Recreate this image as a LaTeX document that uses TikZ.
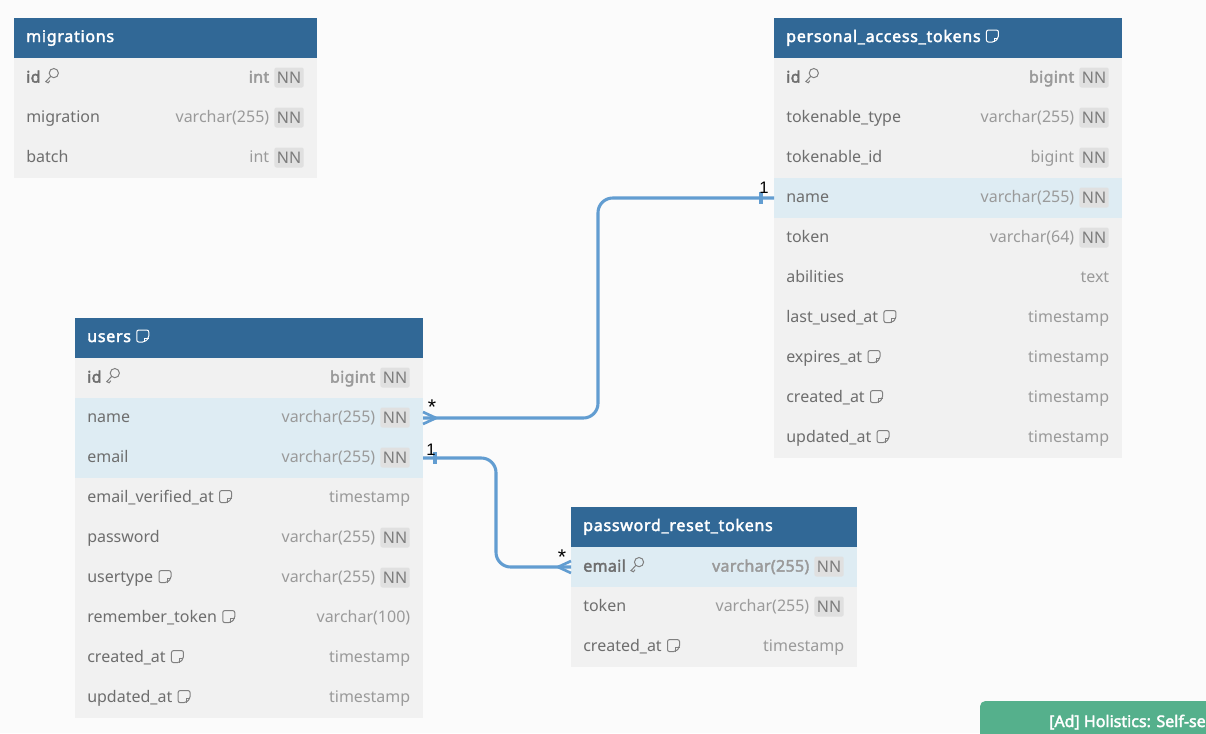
\documentclass[tikz,border=0pt]{standalone}
\usepackage{fontspec}
\setmainfont{Noto Sans}
\newfontfamily\bfnoto{Noto Sans}[FakeBold=2.4,LetterSpace=2]
\newfontfamily\hdfont{Noto Sans}[FakeBold=2.4,LetterSpace=4.5]
\newfontfamily\adfont{Noto Sans}[FakeBold=2.4]
\newfontfamily\lblfont{Liberation Sans}
\definecolor{bgc}{HTML}{FBFBFB}
\definecolor{headc}{HTML}{316896}
\definecolor{rowc}{HTML}{F1F1F1}
\definecolor{hic}{HTML}{DEECF3}
\definecolor{fieldc}{HTML}{6E6E6E}
\definecolor{typec}{HTML}{9A9A9A}
\definecolor{nnbg}{HTML}{E0E0E0}
\definecolor{nnc}{HTML}{7C7C7C}
\definecolor{iconc}{HTML}{808080}
\definecolor{linec}{HTML}{629DD1}
\definecolor{adc}{HTML}{55B08C}
\tikzset{
  box/.style={inner sep=0pt,outer sep=0pt,anchor=north west,minimum height=30pt},
  headbox/.style={box,fill=headc},
  rowplain/.style={box,fill=rowc},
  rowhi/.style={box,fill=hic},
  headtext/.style={inner sep=0pt,anchor=base west,text=white,font=\hdfont\fontsize{12}{14}\selectfont},
  fieldp/.style={inner sep=0pt,anchor=base west,text=fieldc,font=\fontsize{12}{14}\selectfont},
  fieldb/.style={inner sep=0pt,anchor=base west,text=fieldc,font=\bfnoto\fontsize{12}{14}\selectfont},
  typep/.style={inner sep=0pt,anchor=base east,text=typec,font=\fontsize{12}{14}\selectfont},
  typeb/.style={inner sep=0pt,anchor=base east,text=typec,font=\bfnoto\fontsize{12}{14}\selectfont},
  nnbadge/.style={inner sep=0pt,anchor=east,fill=nnbg,rounded corners=1.5pt,minimum width=22pt,minimum height=15pt,text=nnc,font=\fontsize{12}{14}\selectfont},
  rel/.style={draw=linec,line width=2.3pt},
  relthin/.style={draw=linec,line width=2pt},
  card/.style={inner sep=0pt,text=black,font=\lblfont\fontsize{12.5}{14}\selectfont},
  starcard/.style={inner sep=0pt,text=black,font=\lblfont\fontsize{16}{16}\selectfont},
  icon/.style={draw=#1,line width=.75pt},
}
% table state
\newcommand\tstart[6]{% id,x,y,w,title,icon
  \def\tid{#1}\def\tx{#2}\edef\ty{\the\numexpr#3+40\relax}\def\tw{#4}%
  \node[headbox,minimum width=#4*0.75pt] (#1-h) at (#2,#3) {};
  \node[headtext] (#1-ht) at (#2+12,#3+24) {#5};
  #6{#1-ht}{white}%
}
\newcommand\frow[7]{% rowid,rowstyle,p/b,label,icon,type,nn/no
  \node[#2,minimum width=\tw*0.75pt] (\tid-#1) at (\tx,\ty) {};
  \node[field#3] (\tid-#1-t) at (\tx+12,\ty+24.6) {#4};
  #5{\tid-#1-t}{iconc}%
  \csname row#7\endcsname{\tid-#1}{#3}{#6}%
  \edef\ty{\the\numexpr\ty+40\relax}%
}
\newcommand\rownn[3]{%
  \node[nnbadge] (#1-nn) at (\tx+\tw-13,\ty+19.5) {NN};
  \node[type#2] (#1-ty) at (\tx+\tw-47.5,\ty+24.6) {#3};
}
\newcommand\rowno[3]{%
  \node[type#2] (#1-ty) at (\tx+\tw-12.5,\ty+24.6) {#3};
}
\newcommand\noic[2]{}
\newcommand\keyic[2]{%
  \draw[icon=#2] ([shift={(13,-9.5)}]#1.base east) circle[radius=4.6];
  \draw[icon=#2] ([shift={(9.8,-6.2)}]#1.base east) -- ++(-4.8,5.2) -- ++(2.4,1.2) -- ++(1.6,-2.2);
}
\newcommand\noteic[2]{%
  \draw[icon=#2,rounded corners=1.5pt] ([shift={(5.5,-12)}]#1.base east) -- ++(12,0) -- ++(0,8) -- ++(-4,4) -- ++(-8,0) -- cycle;
  \draw[icon=#2] ([shift={(17.5,-4)}]#1.base east) -- ++(-4,0) -- ++(0,4);
}
\begin{document}
\begin{tikzpicture}[x=0.75pt,y=-0.75pt]
\useasboundingbox (0,0) rectangle (1206,733);
\fill[bgc] (0,0) rectangle (1206,733);

\tstart{mig}{14}{18}{303}{migrations}{\noic}
\frow{id}{rowplain}{b}{id}{\keyic}{int}{nn}
\frow{migration}{rowplain}{p}{migration}{\noic}{varchar(255)}{nn}
\frow{batch}{rowplain}{p}{batch}{\noic}{int}{nn}

\tstart{pat}{774}{18}{348}{personal\_access\_tokens}{\noteic}
\frow{id}{rowplain}{b}{id}{\keyic}{bigint}{nn}
\frow{ttype}{rowplain}{p}{tokenable\_type}{\noic}{varchar(255)}{nn}
\frow{tid}{rowplain}{p}{tokenable\_id}{\noic}{bigint}{nn}
\frow{name}{rowhi}{p}{name}{\noic}{varchar(255)}{nn}
\frow{token}{rowplain}{p}{token}{\noic}{varchar(64)}{nn}
\frow{abilities}{rowplain}{p}{abilities}{\noic}{text}{no}
\frow{last}{rowplain}{p}{last\_used\_at}{\noteic}{timestamp}{no}
\frow{expires}{rowplain}{p}{expires\_at}{\noteic}{timestamp}{no}
\frow{created}{rowplain}{p}{created\_at}{\noteic}{timestamp}{no}
\frow{updated}{rowplain}{p}{updated\_at}{\noteic}{timestamp}{no}

\tstart{users}{75}{318}{348}{users}{\noteic}
\frow{id}{rowplain}{b}{id}{\keyic}{bigint}{nn}
\frow{name}{rowhi}{p}{name}{\noic}{varchar(255)}{nn}
\frow{email}{rowhi}{p}{email}{\noic}{varchar(255)}{nn}
\frow{verified}{rowplain}{p}{email\_verified\_at}{\noteic}{timestamp}{no}
\frow{password}{rowplain}{p}{password}{\noic}{varchar(255)}{nn}
\frow{usertype}{rowplain}{p}{usertype}{\noteic}{varchar(255)}{nn}
\frow{remember}{rowplain}{p}{remember\_token}{\noteic}{varchar(100)}{no}
\frow{created}{rowplain}{p}{created\_at}{\noteic}{timestamp}{no}
\frow{updated}{rowplain}{p}{updated\_at}{\noteic}{timestamp}{no}

\tstart{prt}{571}{507}{286}{password\_reset\_tokens}{\noic}
\frow{email}{rowhi}{b}{email}{\keyic}{varchar(255)}{nn}
\frow{token}{rowplain}{p}{token}{\noic}{varchar(255)}{nn}
\frow{created}{rowplain}{p}{created\_at}{\noteic}{timestamp}{no}

% connectors
\coordinate (v1) at (598,300);
\coordinate (v2) at (496,510);
\draw[rel,rounded corners=11pt] (users-name.east) -| (v1) |- (pat-name.west);
\draw[rel,rounded corners=11pt] (users-email.east) -| (v2) |- (prt-email.west);
% crow's feet
\draw[relthin] ([xshift=9.75pt]users-name.east) -- ++(-13,-6);
\draw[relthin] ([xshift=9.75pt]users-name.east) -- ++(-13,6);
\draw[relthin] ([xshift=-9.75pt]prt-email.west) -- ++(13,-6);
\draw[relthin] ([xshift=-9.75pt]prt-email.west) -- ++(13,6);
% one-ticks
\draw[rel] ([xshift=9pt]users-email.east) ++(0,-6) -- ++(0,12);
\draw[rel] ([xshift=-9.75pt]pat-name.west) ++(0,-6) -- ++(0,12);
% cardinality labels
\node[starcard] (c1) at (432,407) {*};
\node[card] (c2) at (764,188) {1};
\node[card] (c3) at (431,450) {1};
\node[starcard] (c4) at (562,557) {*};

% ad banner
\begin{scope}
\clip (0,0) rectangle (1206,733);
\fill[adc,rounded corners=4pt] (980,701) rectangle (1260,770);
\end{scope}
\node[inner sep=0pt,anchor=base east,text=white,font=\adfont\fontsize{12}{14}\selectfont] (ad) at (1206,727) {[Ad] Holistics: Self-se};
\end{tikzpicture}
\end{document}
